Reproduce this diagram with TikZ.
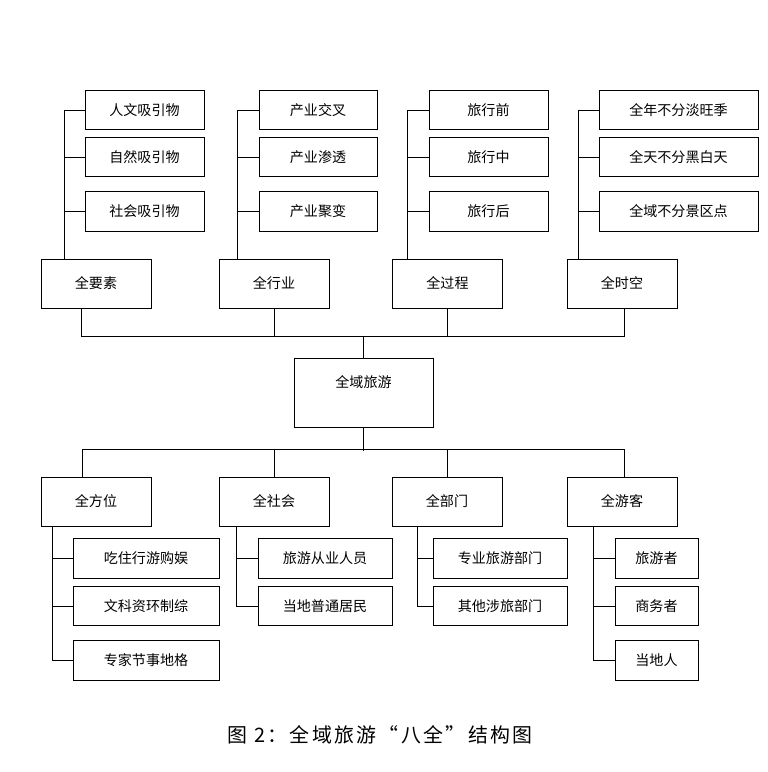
\documentclass[tikz,border=0pt]{standalone}
\usepackage{fontspec}
\usepackage{tikz}
\usetikzlibrary{positioning}
\setmainfont{Liberation Serif}
\newfontfamily\cjk{Noto Sans CJK SC}
\newfontfamily\cjkwide[LetterSpace=12]{Noto Sans CJK SC}

\begin{document}
\begin{tikzpicture}[x=0.3mm, y=-0.3mm, every node/.style={font=\cjk\fontsize{12pt}{14pt}\selectfont}]
  \tikzstyle{box}=[rectangle, draw, line width=0.8pt, inner sep=0pt, align=center]
  \tikzstyle{head}=[box, minimum width=33mm, minimum height=14.7mm]
  \tikzstyle{leaf}=[box, minimum height=11.8mm]
  \tikzstyle{link}=[line width=0.8pt]
  \useasboundingbox (0,0) rectangle (767,772);

  % centre
  \node[box, anchor=north, minimum width=41.7mm, text height=8.8mm, text depth=11.9mm] (root) at (363.5,358) {全域旅游};

  % upper heads
  \node[head] (elem) at (96,283.5) {全要素};
  \node[head] (trade) at (274,283.5) {全行业};
  \node[head] (proc) at (447.5,283.5) {全过程};
  \node[head] (time) at (622,283.5) {全时空};

  % lower heads
  \node[head] (place) at (96,501.5) {全方位};
  \node[head] (society) at (274,501.5) {全社会};
  \node[head] (dept) at (447,501.5) {全部门};
  \node[head] (guest) at (622,501.5) {全游客};

  % upper leaves
  \node[leaf, minimum width=35.7mm] (e1) at (144.5,110) {人文吸引物};
  \node[leaf, minimum width=35.7mm] (e2) at (144.5,157) {自然吸引物};
  \node[leaf, minimum width=35.7mm] (e3) at (144.5,211.5) {社会吸引物};
  \node[leaf, minimum width=35.4mm] (t1) at (318,110) {产业交叉};
  \node[leaf, minimum width=35.4mm] (t2) at (318,157) {产业渗透};
  \node[leaf, minimum width=35.4mm] (t3) at (318,211.5) {产业聚变};
  \node[leaf, minimum width=35.7mm] (p1) at (488.5,110) {旅行前};
  \node[leaf, minimum width=35.7mm] (p2) at (488.5,157) {旅行中};
  \node[leaf, minimum width=35.7mm] (p3) at (488.5,211.5) {旅行后};
  \node[leaf, minimum width=47.7mm] (s1) at (678.5,110) {全年不分淡旺季};
  \node[leaf, minimum width=47.7mm] (s2) at (678.5,157) {全天不分黑白天};
  \node[leaf, minimum width=47.7mm] (s3) at (678.5,211.5) {全域不分景区点};

  % lower leaves
  \node[leaf, minimum width=43.8mm] (a1) at (146,558.5) {吃住行游购娱};
  \node[leaf, minimum width=43.8mm] (a2) at (146,606) {文科资环制综};
  \node[leaf, minimum width=43.8mm] (a3) at (146,660.5) {专家节事地格};
  \node[leaf, minimum width=40.2mm] (b1) at (325,558.5) {旅游从业人员};
  \node[leaf, minimum width=40.2mm] (b2) at (325,606) {当地普通居民};
  \node[leaf, minimum width=40.2mm] (d1) at (500,558.5) {专业旅游部门};
  \node[leaf, minimum width=40.2mm] (d2) at (500,606) {其他涉旅部门};
  \node[leaf, minimum width=24.9mm] (g1) at (656.5,558.5) {旅游者};
  \node[leaf, minimum width=24.9mm] (g2) at (656.5,606) {商务者};
  \node[leaf, minimum width=24.9mm] (g3) at (656.5,660.5) {当地人};

  \node[font=\cjkwide\fontsize{17pt}{19pt}\selectfont] (caption) at (380,735) {图 2：全域旅游“八全”结构图};

  % buses
  \draw[link] ([xshift=-4.5mm]elem.south) -- ++(0,28) -| ([xshift=0.6mm]time.south);
  \draw[link] (trade.south) -- ++(0,28);
  \draw[link] (proc.south) -- ++(0,28);
  \draw[link] (root.north) -- ++(0,-22);
  \draw[link] (root.south) -- ++(0,23);
  \draw[link] ([xshift=-4.2mm]place.north) -- ++(0,-27) -| ([xshift=0.6mm]guest.north);
  \draw[link] (society.north) -- ++(0,-27);
  \draw[link] (dept.north) -- ++(0,-27);

  % spines
  \foreach \c in {e1,e2,e3} \draw[link] ([xshift=7.2mm]elem.north west) |- (\c.west);
  \foreach \c in {t1,t2,t3} \draw[link] ([xshift=5.7mm]trade.north west) |- (\c.west);
  \foreach \c in {p1,p2,p3} \draw[link] ([xshift=4.5mm]proc.north west) |- (\c.west);
  \foreach \c in {s1,s2,s3} \draw[link] ([xshift=3.6mm]time.north west) |- (\c.west);
  \foreach \c in {a1,a2,a3} \draw[link] ([xshift=3.6mm]place.south west) |- (\c.west);
  \foreach \c in {b1,b2} \draw[link] ([xshift=5.4mm]society.south west) |- (\c.west);
  \foreach \c in {d1,d2} \draw[link] ([xshift=7.8mm]dept.south west) |- (\c.west);
  \foreach \c in {g1,g2,g3} \draw[link] ([xshift=8.1mm]guest.south west) |- (\c.west);
\end{tikzpicture}
\end{document}
